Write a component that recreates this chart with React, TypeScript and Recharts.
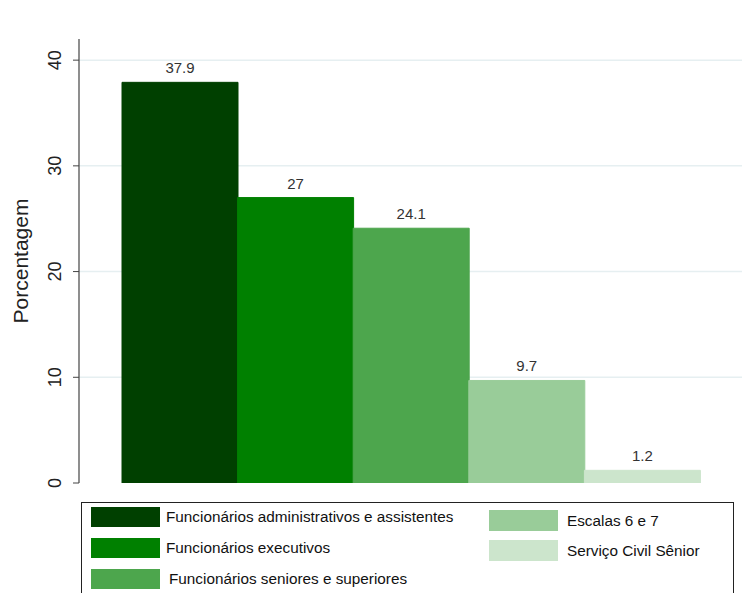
import React from 'react';
import { BarChart, Bar, XAxis, YAxis, CartesianGrid, Cell, LabelList } from 'recharts';

const categories = [
  'Funcionários administrativos e assistentes',
  'Funcionários executivos',
  'Funcionários seniores e superiores',
  'Escalas 6 e 7',
  'Serviço Civil Sênior',
];
const values = [37.9, 27, 24.1, 9.7, 1.2];
const colors = ['#004000', '#008000', '#4da64d', '#99cc99', '#cce5cc'];
const yTicks = [0, 10, 20, 30, 40];
const gridValues = [10, 20, 30, 40];

const data = categories.map((name, i) => ({ name, value: values[i], color: colors[i] }));

const FONT = '"Liberation Sans", Arial, sans-serif';

const YTick = (props: any) => {
  const { x, y, payload } = props;
  return (
    <text
      x={x - 10}
      y={y}
      transform={`rotate(-90 ${x - 10} ${y})`}
      textAnchor="middle"
      fontSize={18}
      fontFamily={FONT}
      fill="#222"
    >
      {payload.value}
    </text>
  );
};

const legendLeft = [0, 1, 2];
const legendRight = [3, 4];

export default function App() {
  return (
    <div style={{ position: 'absolute', left: 0, top: 0, width: 747, height: 593, background: '#fff', overflow: 'hidden', fontFamily: FONT }}>
      <BarChart
        width={747}
        height={593}
        data={data}
        margin={{ top: 39, right: 5, left: 0, bottom: 110 }}
        barCategoryGap={0}
        barGap={0}
      >
        <CartesianGrid vertical={false} horizontalValues={gridValues} stroke="#e6eff1" strokeWidth={1.5} />
        <XAxis
          dataKey="name"
          tick={false}
          tickLine={false}
          height={0}
          padding={{ left: 43, right: 42 }}
          axisLine={{ stroke: '#222', strokeWidth: 1.5 }}
        />
        <YAxis
          width={79}
          domain={[0, 42]}
          ticks={yTicks}
          allowDataOverflow
          tick={<YTick />}
          tickSize={6}
          tickLine={{ stroke: '#444' }}
          axisLine={{ stroke: '#444', strokeWidth: 1.2 }}
          label={{
            value: 'Porcentagem',
            angle: -90,
            position: 'insideLeft',
            dx: 16,
            style: { fontSize: 21, fontFamily: FONT, fill: '#222', textAnchor: 'middle' },
          }}
        />
        <Bar dataKey="value" isAnimationActive={false}>
          {data.map((d, i) => (
            <Cell key={i} fill={d.color} stroke={d.color} />
          ))}
          <LabelList
            dataKey="value"
            position="top"
            offset={9}
            style={{ fontSize: 15, fontFamily: FONT, fill: '#333' }}
          />
        </Bar>
      </BarChart>
      <div
        style={{
          position: 'absolute',
          left: 81,
          top: 502,
          width: 653,
          height: 120,
          border: '1px solid #222',
          boxSizing: 'border-box',
        }}
      />
      {legendLeft.map((idx, r) => (
        <div key={idx} style={{ position: 'absolute', left: 91, top: 507 + r * 31, display: 'flex', alignItems: 'center' }}>
          <div style={{ width: 69, height: 20, background: colors[idx] }} />
          <span style={{ marginLeft: 6 + (r === 2 ? 3 : 0), fontSize: 15.3, color: '#111', whiteSpace: 'nowrap' }}>{categories[idx]}</span>
        </div>
      ))}
      {legendRight.map((idx, r) => (
        <div key={idx} style={{ position: 'absolute', left: 489, top: 510 + r * 30, display: 'flex', alignItems: 'center' }}>
          <div style={{ width: 69, height: 21, background: colors[idx] }} />
          <span style={{ marginLeft: 9, fontSize: 15.3, color: '#111', whiteSpace: 'nowrap' }}>{categories[idx]}</span>
        </div>
      ))}
    </div>
  );
}
